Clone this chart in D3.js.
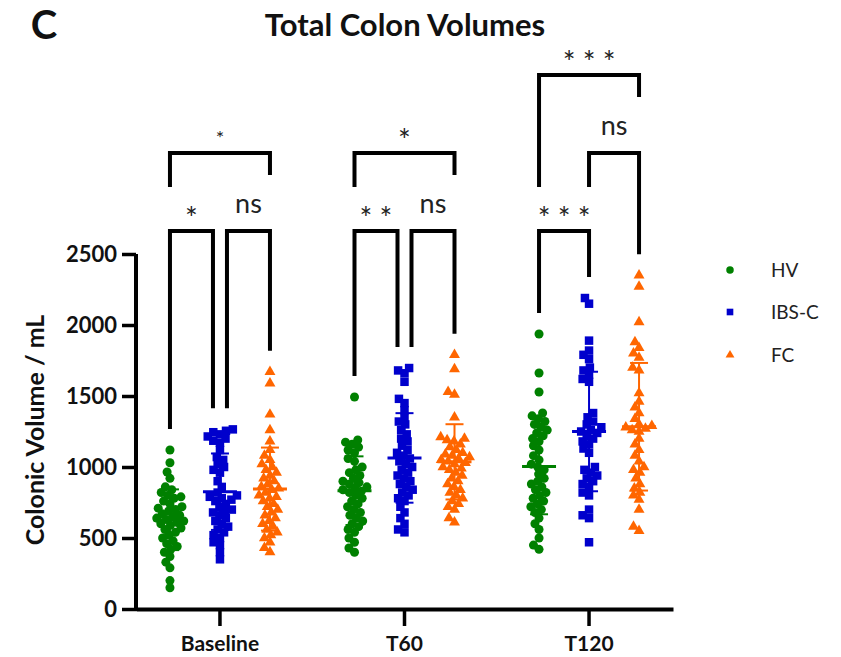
<!DOCTYPE html>
<meta charset="utf-8">
<script src="https://d3js.org/d3.v7.min.js"></script>
<style>
  body { margin: 0; background: #fff; }
  text { font-family: Lato, "Open Sans", sans-serif; }
</style>
<div id="chart"></div>
<script>

// categories
var timepoints = ["Baseline", "T60", "T120"];
var groups = ["HV", "IBS-C", "FC"];
var yTicks = [0, 500, 1000, 1500, 2000, 2500];

// colonic volumes (mL)
var hvBaseline = [1120, 1030, 965, 920, 860, 840, 820, 800, 790, 780, 760, 740, 720, 710, 700, 690, 670, 660, 650, 640,
  630, 620, 610, 600, 590, 570, 560, 540, 520, 500, 480, 460, 440, 420, 400, 370, 330, 290, 200, 150];
var ibsBaseline = [1265, 1255, 1245, 1230, 1215, 1200, 1185, 1170, 1120, 1070, 1050, 1020, 1000, 980, 960, 900, 860,
  820, 800, 790, 780, 770, 760, 740, 720, 700, 690, 680, 660, 640, 620, 600, 580, 560, 540, 520, 500, 470, 450, 400, 350];
var fcBaseline = [1670, 1590, 1370, 1260, 1180, 1120, 1080, 1050, 1020, 1000, 980, 960, 940, 920, 900, 880, 860, 850,
  840, 820, 800, 790, 780, 760, 740, 720, 700, 680, 660, 640, 620, 600, 580, 560, 540, 520, 500, 470, 430, 400];

var hvT60 = [1493, 1190, 1175, 1160, 1140, 1120, 1100, 1060, 1040, 1000, 980, 960, 940, 920, 900, 890, 880, 860, 850,
  840, 830, 820, 800, 780, 760, 740, 720, 700, 680, 660, 640, 620, 600, 580, 560, 540, 500, 470, 430, 400];
var ibsT60 = [1697, 1680, 1660, 1600, 1480, 1450, 1400, 1350, 1320, 1300, 1260, 1230, 1200, 1180, 1150, 1120, 1100,
  1080, 1060, 1040, 1020, 1000, 980, 960, 940, 920, 900, 880, 860, 840, 820, 800, 780, 760, 720, 680, 640, 600, 560, 540];
var fcT60 = [1790, 1690, 1530, 1510, 1350, 1210, 1200, 1190, 1180, 1160, 1140, 1120, 1100, 1090, 1080, 1070, 1060,
  1050, 1040, 1030, 1020, 1000, 990, 980, 960, 940, 920, 900, 880, 860, 840, 820, 800, 780, 760, 740, 720, 700, 640, 610];

var hvT120 = [1937, 1662, 1528, 1380, 1360, 1340, 1320, 1300, 1280, 1260, 1240, 1220, 1200, 1180, 1150, 1120, 1080,
  1050, 1020, 1000, 980, 950, 920, 900, 880, 860, 840, 820, 800, 780, 760, 740, 720, 700, 680, 640, 600, 560, 500, 450, 420];
var ibsT120 = [2190, 2150, 1890, 1820, 1790, 1760, 1700, 1680, 1650, 1620, 1600, 1380, 1350, 1320, 1300, 1280, 1260,
  1250, 1240, 1220, 1200, 1180, 1160, 1130, 1100, 1000, 980, 960, 940, 920, 900, 880, 860, 820, 800, 700, 660, 640, 470];
var fcT120 = [2350, 2270, 2020, 1880, 1840, 1800, 1770, 1700, 1680, 1520, 1460, 1420, 1380, 1340, 1300, 1290, 1280,
  1270, 1260, 1250, 1200, 1160, 1120, 1080, 1040, 1000, 980, 960, 920, 880, 850, 820, 800, 770, 700, 580, 550];

// significance labels for each comparison
var comparisons = [
  {time: "Baseline", a: "HV", b: "IBS-C", label: "*"},
  {time: "Baseline", a: "IBS-C", b: "FC", label: "ns"},
  {time: "Baseline", a: "HV", b: "FC", label: "*", small: true},
  {time: "T60", a: "HV", b: "IBS-C", label: "**"},
  {time: "T60", a: "IBS-C", b: "FC", label: "ns"},
  {time: "T60", a: "HV", b: "FC", label: "*"},
  {time: "T120", a: "HV", b: "IBS-C", label: "***"},
  {time: "T120", a: "IBS-C", b: "FC", label: "ns"},
  {time: "T120", a: "HV", b: "FC", label: "***"}
];
// bracket tier (0 = lowest) and where covered legs stop (mL on the y scale)
var bracketTier = [0, 0, 1, 0, 0, 1, 0, 1, 2];
var bracketLegEnds = [[null, null], [null, null], [2972, 3056], [null, null], [null, null], [2972, 3056],
  [null, null], [2972, null], [2972, 3605]];

var values = {
  "Baseline": {"HV": hvBaseline, "IBS-C": ibsBaseline, "FC": fcBaseline},
  "T60": {"HV": hvT60, "IBS-C": ibsT60, "FC": fcT60},
  "T120": {"HV": hvT120, "IBS-C": ibsT120, "FC": fcT120}
};

var color = d3.scaleOrdinal().domain(groups).range(["#008000", "#0000cc", "#ff6600"]);
var shape = d3.scaleOrdinal().domain(groups).range([d3.symbolCircle, d3.symbolSquare, d3.symbolTriangle]);
var shapeSize = {"HV": 64, "IBS-C": 72, "FC": 52};

var width = 841, height = 657;

var svg = d3.select("#chart").append("svg")
  .attr("width", width)
  .attr("height", height);

var y = d3.scaleLinear().domain([0, 2500]).range([609, 254]);
var x = d3.scaleBand().domain(timepoints).range([136, 673]).paddingInner(0).paddingOuter(-0.045);
var xg = d3.scalePoint().domain(groups).range([-50, 50]);

function colX(t, g) { return x(t) + x.bandwidth() / 2 + xg(g); }

// axes
var yAxis = svg.append("g")
  .attr("transform", "translate(136,0)")
  .call(d3.axisLeft(y).tickValues(yTicks).tickSize(14).tickSizeOuter(0).tickPadding(5).tickFormat(d3.format("d")));
yAxis.select(".domain").attr("stroke-width", 4).attr("d", "M0," + (y(0) + 2) + "V" + y(2500));
yAxis.selectAll(".tick line").attr("stroke-width", 3.5);
yAxis.selectAll(".tick text").attr("font-size", 22).attr("font-weight", "bold").attr("fill", "#111");

var xAxis = svg.append("g")
  .attr("transform", "translate(0," + y(0) + ")")
  .call(d3.axisBottom(x).tickSize(17).tickSizeOuter(0).tickPadding(10));
xAxis.select(".domain").attr("stroke-width", 4);
xAxis.selectAll(".tick line").attr("stroke-width", 3.5);
xAxis.selectAll(".tick text").attr("font-size", 21).attr("font-weight", "bold").attr("fill", "#111");

// beeswarm layout: each point goes as close to the column centre as it can
function swarm(vals, dist) {
  var placed = [];
  var order = vals.map(function(v, i) { return i; }).sort(function(a, b) { return vals[a] - vals[b]; });
  order.forEach(function(i) {
    var py = y(vals[i]);
    var blocked = [];
    placed.forEach(function(p) {
      var dy = Math.abs(p.y - py);
      if (dy < dist) {
        var dx = Math.sqrt(dist * dist - dy * dy);
        blocked.push([p.dx - dx, p.dx + dx]);
      }
    });
    var cands = [0];
    blocked.forEach(function(b) { cands.push(b[0], b[1]); });
    cands.sort(function(a, b) { return Math.abs(a) - Math.abs(b) || a - b; });
    var dx = cands.find(function(c) {
      return blocked.every(function(b) { return c <= b[0] + 1e-6 || c >= b[1] - 1e-6; });
    });
    placed.push({dx: dx, y: py, v: vals[i]});
  });
  return placed;
}

var plot = svg.append("g");
timepoints.forEach(function(t) {
  groups.forEach(function(g) {
    var vals = values[t][g];
    var cx = colX(t, g);
    var pts = swarm(vals, 7);
    plot.selectAll(null)
      .data(pts)
      .enter()
      .append("path")
      .attr("d", d3.symbol().type(shape(g)).size(shapeSize[g]))
      .attr("transform", function(d) { return "translate(" + (cx + d.dx) + "," + d.y + ")"; })
      .attr("fill", color(g));

    // mean and SD
    var m = d3.mean(vals), sd = d3.deviation(vals);
    var eb = plot.append("g").attr("stroke", color(g));
    eb.append("line").attr("x1", cx).attr("x2", cx).attr("y1", y(m - sd)).attr("y2", y(m + sd)).attr("stroke-width", 2);
    [m - sd, m + sd].forEach(function(v) {
      eb.append("line").attr("x1", cx - 9).attr("x2", cx + 9).attr("y1", y(v)).attr("y2", y(v)).attr("stroke-width", 2);
    });
    eb.append("line").attr("x1", cx - 17).attr("x2", cx + 17).attr("y1", y(m)).attr("y2", y(m)).attr("stroke-width", 3);
  });
});

// significance brackets
var tierY = function(k) { return 231 - k * 78; };
var br = svg.append("g");
comparisons.forEach(function(c, i) {
  var tier = bracketTier[i];
  var ly = tierY(tier);
  // shift shared legs apart when a neighbour bracket sits on the same tier
  var shareA = comparisons.some(function(o, j) { return j !== i && o.time === c.time && bracketTier[j] === tier && o.b === c.a; });
  var shareB = comparisons.some(function(o, j) { return j !== i && o.time === c.time && bracketTier[j] === tier && o.a === c.b; });
  var xa = colX(c.time, c.a) + (shareA ? 7 : 0);
  var xb = colX(c.time, c.b) - (shareB ? 7 : 0);
  var ends = bracketLegEnds[i];
  var ya = ends[0] != null ? y(ends[0]) : y(d3.max(values[c.time][c.a])) - 21;
  var yb = ends[1] != null ? y(ends[1]) : y(d3.max(values[c.time][c.b])) - 21;
  br.append("path")
    .attr("d", "M" + xa + "," + ya + "V" + ly + "H" + xb + "V" + yb)
    .attr("fill", "none")
    .attr("stroke", "#000")
    .attr("stroke-width", 4)
    .attr("stroke-linejoin", "miter");
  var mx = (xa + xb) / 2;
  if (c.label === "ns") {
    br.append("text").attr("x", mx).attr("y", ly - 18).attr("text-anchor", "middle")
      .attr("font-size", 27).attr("fill", "#222").text("ns");
  } else {
    var n = c.label.length;
    var fs = c.small ? 20 : 30;
    var gap = 20;
    for (var k = 0; k < n; k++) {
      br.append("text")
        .attr("x", mx + (k - (n - 1) / 2) * gap)
        .attr("y", ly - 19 + fs * 0.55)
        .attr("text-anchor", "middle")
        .attr("font-size", fs)
        .attr("fill", "#222")
        .text("*");
    }
  }
});

// titles
svg.append("text").attr("x", 405).attr("y", 36).attr("text-anchor", "middle")
  .attr("font-size", 31).attr("font-weight", "bold").attr("fill", "#111").text("Total Colon Volumes");
svg.append("text").attr("x", 44).attr("y", 39).attr("text-anchor", "middle")
  .attr("font-size", 40).attr("font-weight", "bold").attr("fill", "#111").text("C");
svg.append("text").attr("transform", "translate(44,430) rotate(-90)").attr("text-anchor", "middle")
  .attr("font-size", 25).attr("font-weight", "bold").attr("fill", "#111").text("Colonic Volume / mL");

// legend
var legend = svg.append("g").selectAll("g")
  .data(groups)
  .enter()
  .append("g")
  .attr("transform", function(d, i) { return "translate(730," + [270, 312, 355][i] + ")"; });
legend.append("path")
  .attr("d", function(d) { return d3.symbol().type(shape(d)).size(d === "FC" ? 34 : 44)(); })
  .attr("fill", function(d) { return color(d); });
legend.append("text").attr("x", 41).attr("y", 7).attr("font-size", 19).attr("fill", "#222")
  .text(function(d) { return d; });

</script>
